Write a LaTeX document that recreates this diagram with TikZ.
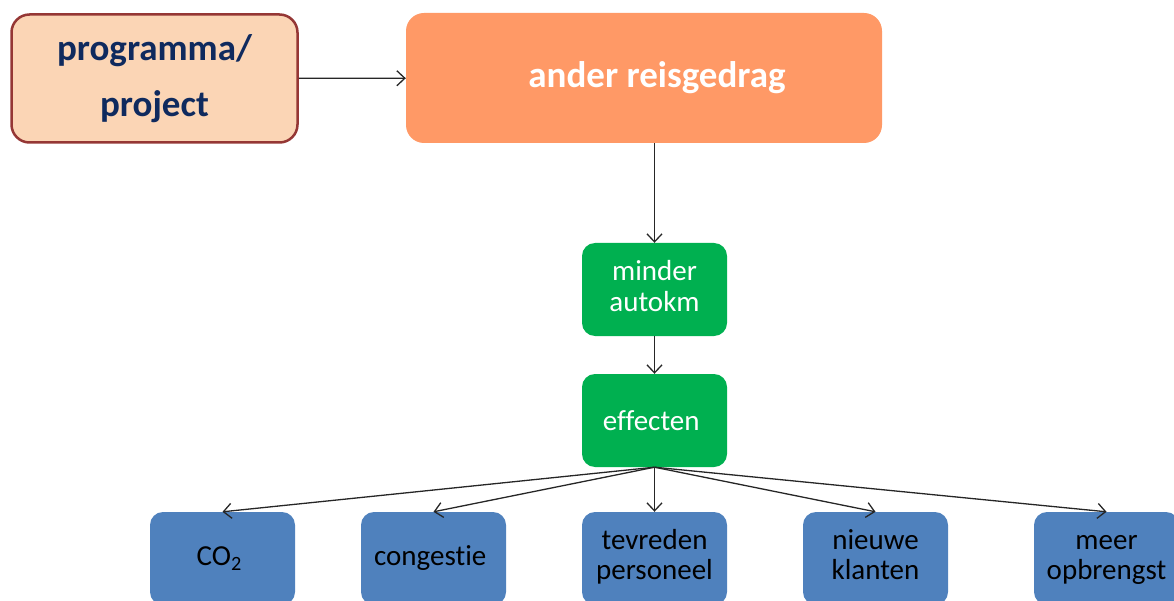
\documentclass[tikz,border=0pt]{standalone}
\usepackage{fontspec}
\setmainfont{Carlito}[Ligatures=NoCommon]
\usepackage{xcolor}
\usepackage{tikz}
\usetikzlibrary{arrows.meta,positioning}
\definecolor{peach}{HTML}{FBD5B5}
\definecolor{brickred}{HTML}{953735}
\definecolor{navy}{HTML}{0F2A5E}
\definecolor{salmon}{HTML}{FF9966}
\definecolor{groen}{HTML}{00B050}
\definecolor{blauw}{HTML}{4F81BD}

\begin{document}
\begin{tikzpicture}[x=1pt,y=-1pt,
    progbox/.style={draw=brickred,line width=2.5pt,fill=peach,rounded corners=18pt,
        minimum width=286pt,minimum height=128pt,text=navy,align=center,
        font=\bfseries\fontsize{37}{56}\selectfont},
    gedragbox/.style={fill=salmon,rounded corners=18pt,minimum width=476pt,
        minimum height=130pt,text=white,font=\bfseries\fontsize{37}{40}\selectfont},
    groenbox/.style={fill=groen,rounded corners=13pt,minimum width=145pt,
        minimum height=93pt,text=white,align=center,font=\fontsize{29}{31}\selectfont},
    blauwbox/.style={fill=blauw,rounded corners=13pt,minimum width=145pt,
        minimum height=93pt,text=black,align=center,font=\fontsize{29}{30}\selectfont},
    pijl/.style={->,draw=black!85,line width=1.3pt},
    >={Straight Barb[length=8pt,width=15pt]}]
    \useasboundingbox (0,0) rectangle (1174,601);
    \node[progbox] (prog) at (154.5,78.5) {
        programma/\\project
    };
    \node[gedragbox] (gedrag) at (644,78) {
        \hspace*{26pt}ander reisgedrag
    };
    \node[groenbox] (minder) at (654.5,289.5) {
        \strut minder\\\strut autokm
    };
    \node[groenbox] (effecten) at (654.5,420.5) {
        effecten
    };
    \node[blauwbox] (co2) at (222.5,558.5) {
        CO\textsubscript{2}
    };
    \node[blauwbox] (congestie) at (433.5,558.5) {
        congestie
    };
    \node[blauwbox] (tevreden) at (654.5,558.5) {
        \strut tevreden\\\strut personeel
    };
    \node[blauwbox] (klanten) at (875.5,558.5) {
        \strut nieuwe\\\strut klanten
    };
    \node[blauwbox] (opbrengst) at (1106.5,558.5) {
        \strut meer\\\strut opbrengst
    };
    \draw[pijl] (prog) to (gedrag);
    \draw[pijl] (gedrag.south -| minder.north) to (minder);
    \draw[pijl] (minder) to (effecten);
    \draw[pijl] (effecten.south) to (co2.north);
    \draw[pijl] (effecten.south) to (congestie.north);
    \draw[pijl] (effecten.south) to (tevreden.north);
    \draw[pijl] (effecten.south) to (klanten.north);
    \draw[pijl] (effecten.south) to (opbrengst.north);
\end{tikzpicture}
\end{document}
